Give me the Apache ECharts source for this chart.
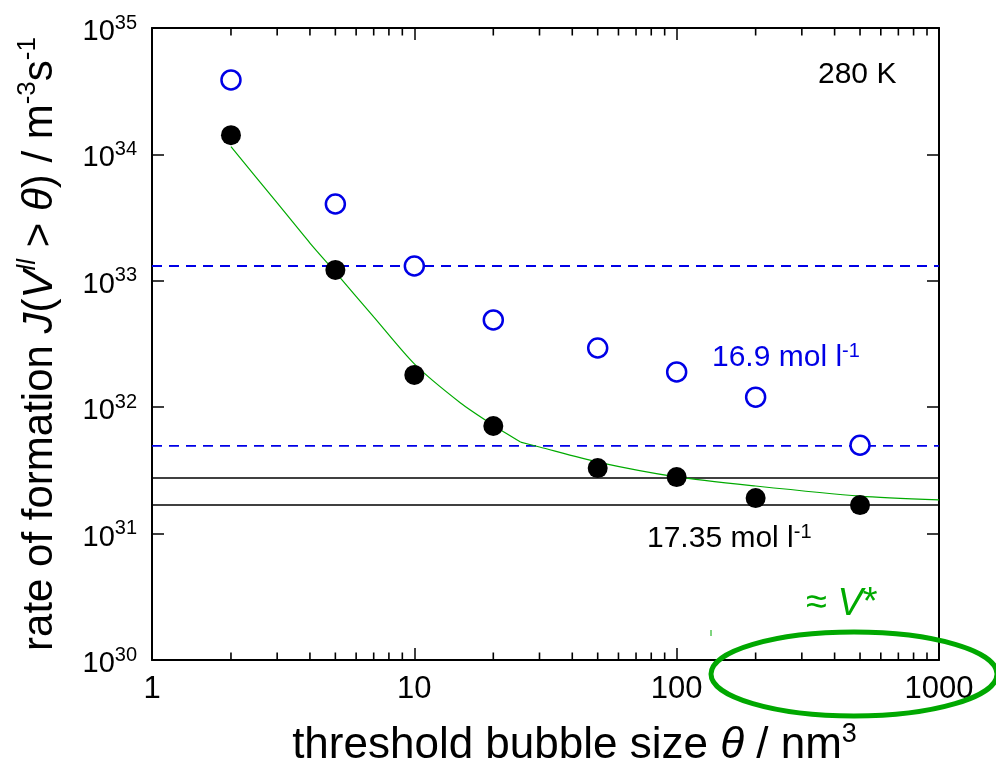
<!DOCTYPE html>
<html>
<head>
<meta charset="utf-8">
<script src="https://cdn.jsdelivr.net/npm/echarts@6/dist/echarts.min.js"></script>
<style>html,body{margin:0;padding:0;background:#fff}#c{width:996px;height:763px}</style>
</head>
<body>
<div id="c"></div>
<script>
// ---- data ----
const thetas = [2, 5, 10, 20, 50, 100, 200, 500];
const rate1735 = [1.42e34, 1.22e33, 1.8e32, 7.1e31, 3.3e31, 2.8e31, 1.91e31, 1.68e31];
const rate169 = [3.88e34, 4.05e33, 1.31e33, 4.9e32, 2.94e32, 1.9e32, 1.2e32, 5.0e31];
const fitThetaA = [2, 3, 4, 5, 7, 10, 15, 20, 25.4];
const fitRateA = [1.15e34, 4.13e33, 1.99e33, 1.17e33, 5.18e32, 2.2e32, 1.08e32, 7.2e31, 5.3e31];
const fitThetaB = [25.4, 30, 50, 100, 200, 500, 1000];
const fitRateB = [5.3e31, 4.84e31, 3.68e31, 2.81e31, 2.38e31, 1.98e31, 1.85e31];
const blueLevels = [1.31e33, 4.95e31];
const blackLevels = [2.75e31, 1.68e31];
const xRange = [1, 1000];
const yRange = [1e30, 1e35];
const minorXTicks = [2, 3, 4, 5, 6, 7, 8, 9, 20, 30, 40, 50, 60, 70, 80, 90, 200, 300, 400, 500, 600, 700, 800, 900];

const FONT = 'Liberation Sans, Arial, sans-serif';
const BLUE = '#0000e6';
const GREEN = '#00aa00';

const zip = (a, b) => a.map((v, i) => [v, b[i]]);

const chart = echarts.init(document.getElementById('c'), null, {renderer: 'canvas'});

const baseX = {
  type: 'log', logBase: 10, min: xRange[0], max: xRange[1],
  axisLine: {show: true, lineStyle: {color: '#000', width: 2}},
  axisTick: {show: true, inside: true, length: 12, lineStyle: {color: '#000', width: 1.5}},
  splitLine: {show: false},
  minorTick: {show: false}
};
const baseY = {
  type: 'log', logBase: 10, min: yRange[0], max: yRange[1],
  axisLine: {show: true, lineStyle: {color: '#000', width: 2}},
  axisTick: {show: true, inside: true, length: 12, lineStyle: {color: '#000', width: 1.5}},
  splitLine: {show: false}
};

const levelSeries = [];
blueLevels.forEach(v => levelSeries.push({
  type: 'line', data: [[xRange[0], v], [xRange[1], v]], symbol: 'none', silent: true,
  lineStyle: {color: BLUE, width: 1.8, type: [10, 7]}, z: 2
}));
blackLevels.forEach(v => levelSeries.push({
  type: 'line', data: [[xRange[0], v], [xRange[1], v]], symbol: 'none', silent: true,
  lineStyle: {color: '#000', width: 1.5}, z: 2
}));

const tickSeries = [
  {type: 'scatter', silent: true, clip: false, z: 3,
    data: minorXTicks.map(v => [v, yRange[0]]),
    symbol: 'rect', symbolSize: [1.6, 7], symbolOffset: [0, -4],
    itemStyle: {color: '#000', opacity: 1}},
  {type: 'scatter', silent: true, clip: false, z: 3,
    data: minorXTicks.map(v => [v, yRange[1]]),
    symbol: 'rect', symbolSize: [1.6, 7], symbolOffset: [0, 4],
    itemStyle: {color: '#000', opacity: 1}}
];

chart.setOption({
  animation: false,
  backgroundColor: '#fff',
  grid: {left: 152, right: 57, top: 28, bottom: 103, containLabel: false, outerBoundsMode: 'none'},
  xAxis: [
    Object.assign({}, baseX, {
      position: 'bottom',
      axisLabel: {fontSize: 31, color: '#000', fontFamily: FONT, margin: 14, formatter: v => String(v)},
      name: '{n|threshold bubble size }{i|θ}{n| / nm}{s|3}',
      nameLocation: 'middle', nameGap: 61,
      nameTextStyle: {
        padding: [0, 0, 0, 58],
        rich: {
          n: {fontSize: 44, fontFamily: FONT, color: '#000', lineHeight: 50},
          i: {fontSize: 44, fontFamily: FONT, fontStyle: 'italic', color: '#000', lineHeight: 50},
          s: {fontSize: 27, fontFamily: FONT, color: '#000', verticalAlign: 'top', lineHeight: 26}
        }
      }
    }),
    Object.assign({}, baseX, {position: 'top', axisLabel: {show: false}})
  ],
  yAxis: [
    Object.assign({}, baseY, {
      position: 'left',
      axisLabel: {
        margin: 15,
        formatter: v => '{b|10}{s|' + Math.round(Math.log10(v)) + '}',
        rich: {
          b: {fontSize: 29, fontFamily: FONT, color: '#000', lineHeight: 30, padding: [8, 0, 0, 0]},
          s: {fontSize: 20, fontFamily: FONT, color: '#000', verticalAlign: 'top', lineHeight: 20}
        }
      },
      name: '{n|rate of formation }{i|J}{n|(}{i|V}{si|ll}{n| > }{i|θ}{n|) / m}{s|-3}{n|s}{s|-1}',
      nameLocation: 'middle', nameGap: 87, nameRotate: 90,
      nameTextStyle: {
        rich: {
          n: {fontSize: 42, fontFamily: FONT, color: '#000', lineHeight: 50},
          i: {fontSize: 42, fontFamily: FONT, fontStyle: 'italic', color: '#000', lineHeight: 50},
          s: {fontSize: 26, fontFamily: FONT, color: '#000', verticalAlign: 'top', lineHeight: 26},
          si: {fontSize: 26, fontFamily: FONT, fontStyle: 'italic', color: '#000', verticalAlign: 'top', lineHeight: 26}
        }
      }
    }),
    Object.assign({}, baseY, {position: 'right', axisLabel: {show: false}})
  ],
  series: levelSeries.concat(tickSeries).concat([
    {
      type: 'line', data: zip(fitThetaA, fitRateA), symbol: 'none', smooth: 0.25, silent: true,
      lineStyle: {color: GREEN, width: 1.2}, z: 4
    },
    {
      type: 'line', data: zip(fitThetaB, fitRateB), symbol: 'none', smooth: 0.25, silent: true,
      lineStyle: {color: GREEN, width: 1.2}, z: 4
    },
    {
      type: 'scatter', data: zip(thetas, rate169), symbol: 'circle', symbolSize: 19,
      itemStyle: {color: '#fff', borderColor: BLUE, borderWidth: 2.5, opacity: 1}, z: 5
    },
    {
      type: 'scatter', data: zip(thetas, rate1735), symbol: 'circle', symbolSize: 20,
      itemStyle: {color: '#000', opacity: 1}, z: 6
    }
  ]),
  graphic: [
    {type: 'text', x: 818, y: 75, z: 10,
      style: {text: '280 K', font: '30px ' + FONT, fill: '#000', verticalAlign: 'middle', align: 'left'}},
    {type: 'text', x: 712, y: 358, z: 10,
      style: {text: '{a|16.9 mol l}{s|-1}', verticalAlign: 'middle', align: 'left',
        rich: {
          a: {fontSize: 30, fontFamily: FONT, fill: BLUE, color: BLUE, lineHeight: 34},
          s: {fontSize: 20, fontFamily: FONT, fill: BLUE, color: BLUE, verticalAlign: 'top', lineHeight: 20}
        }}},
    {type: 'text', x: 647, y: 539, z: 10,
      style: {text: '{a|17.35 mol l}{s|-1}', verticalAlign: 'middle', align: 'left',
        rich: {
          a: {fontSize: 30, fontFamily: FONT, fill: '#000', color: '#000', lineHeight: 34},
          s: {fontSize: 20, fontFamily: FONT, fill: '#000', color: '#000', verticalAlign: 'top', lineHeight: 20}
        }}},
    {type: 'text', x: 806, y: 604, z: 10,
      style: {text: '{a|≈ }{v|V}{a|*}', verticalAlign: 'middle', align: 'left',
        rich: {
          a: {fontSize: 38, fontFamily: FONT, fill: GREEN, color: GREEN},
          v: {fontSize: 38, fontFamily: FONT, fontStyle: 'italic', fill: GREEN, color: GREEN}
        }}},
    {type: 'ellipse', z: 10, shape: {cx: 854, cy: 674, rx: 143, ry: 42},
      style: {fill: 'none', stroke: '#00a800', lineWidth: 5}},
    {type: 'line', z: 10, shape: {x1: 711, y1: 630, x2: 711, y2: 636},
      style: {stroke: GREEN, lineWidth: 1}}
  ]
});
</script>
</body>
</html>
